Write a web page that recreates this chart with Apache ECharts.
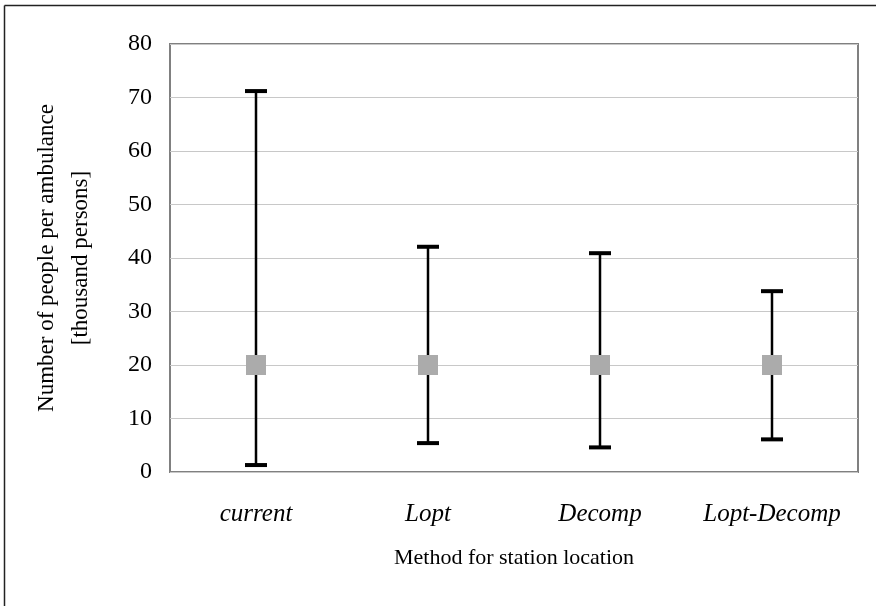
<!DOCTYPE html>
<html>
<head>
<meta charset="utf-8">
<script src="https://cdn.jsdelivr.net/npm/echarts@6/dist/echarts.min.js"></script>
<style>html,body{margin:0;padding:0;background:#fff;}#c{width:876px;height:606px;}</style>
</head>
<body>
<div id="c"></div>
<script>
const categories = ['current', 'Lopt', 'Decomp', 'Lopt-Decomp'];
const meanValues = [20, 20, 20, 20];
const lowValues = [1.3, 5.4, 4.6, 6.1];
const highValues = [71.2, 42.1, 40.9, 33.8];
const yTicks = [0, 10, 20, 30, 40, 50, 60, 70, 80];

const chart = echarts.init(document.getElementById('c'), null, {renderer: 'canvas'});
const font = '"Liberation Serif", "Times New Roman", serif';

const errData = categories.map((c, i) => [i, lowValues[i], highValues[i]]);

chart.setOption({
  backgroundColor: '#fff',
  animation: false,
  grid: {left: 170, right: 18, top: 44, bottom: 134, show: true, borderColor: '#808080', borderWidth: 2, backgroundColor: 'transparent'},
  xAxis: {
    type: 'category',
    data: categories,
    axisLine: {show: false},
    axisTick: {show: false},
    axisLabel: {interval: 0, hideOverlap: false, fontFamily: font, fontSize: 25, fontStyle: 'italic', color: '#000', margin: 30},
    name: 'Method for station location',
    nameLocation: 'middle',
    nameGap: 75,
    nameTextStyle: {fontFamily: font, fontSize: 22, color: '#000'}
  },
  yAxis: {
    type: 'value',
    min: yTicks[0],
    max: yTicks[yTicks.length - 1],
    interval: 10,
    axisLine: {show: false},
    axisTick: {show: false},
    splitLine: {lineStyle: {color: '#c8c8c8', width: 1}},
    axisLabel: {fontFamily: font, fontSize: 24, color: '#000', margin: 18},
    name: 'Number of people per ambulance\n[thousand persons]',
    nameLocation: 'middle',
    nameGap: 72,
    nameRotate: 90,
    nameTextStyle: {fontFamily: font, fontSize: 23, color: '#000', lineHeight: 34}
  },
  graphic: [
    {type: 'line', shape: {x1: 4.5, y1: 5.5, x2: 876, y2: 5.5}, style: {stroke: '#222', lineWidth: 1.5}, silent: true},
    {type: 'line', shape: {x1: 4.5, y1: 5.5, x2: 4.5, y2: 606}, style: {stroke: '#222', lineWidth: 1.5}, silent: true}
  ],
  series: [
    {
      type: 'custom',
      data: errData,
      encode: {x: 0, y: [1, 2]},
      z: 2,
      renderItem: function (params, api) {
        const x = api.value(0);
        const lo = api.coord([x, api.value(1)]);
        const hi = api.coord([x, api.value(2)]);
        const half = 11;
        return {
          type: 'group',
          children: [
            {type: 'line', shape: {x1: lo[0], y1: lo[1], x2: hi[0], y2: hi[1]}, style: {stroke: '#000', lineWidth: 2.5}},
            {type: 'line', shape: {x1: hi[0] - half, y1: hi[1], x2: hi[0] + half, y2: hi[1]}, style: {stroke: '#000', lineWidth: 4}},
            {type: 'line', shape: {x1: lo[0] - half, y1: lo[1], x2: lo[0] + half, y2: lo[1]}, style: {stroke: '#000', lineWidth: 4}}
          ]
        };
      }
    },
    {
      type: 'scatter',
      data: meanValues,
      symbol: 'rect',
      symbolSize: 20,
      z: 3,
      itemStyle: {color: '#ababab', opacity: 1}
    }
  ]
});
</script>
</body>
</html>
